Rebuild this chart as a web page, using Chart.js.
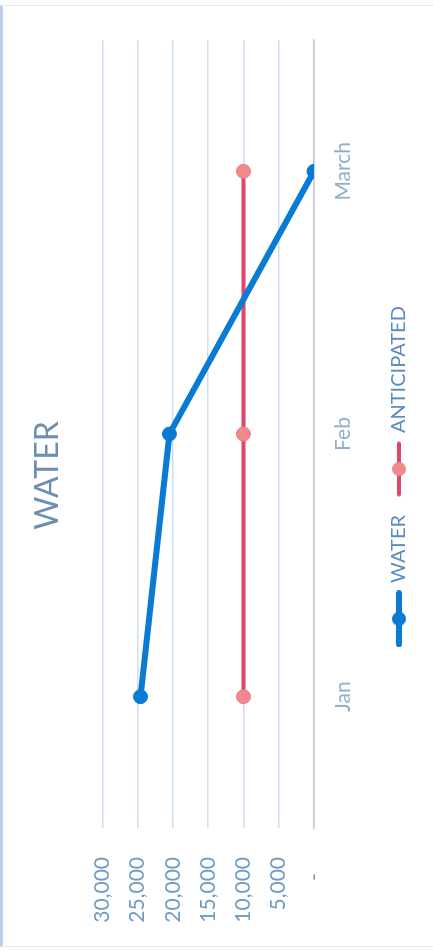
<!DOCTYPE html>
<html>
<head>
<meta charset="utf-8">
<script src="https://cdn.jsdelivr.net/npm/chart.js@4/dist/chart.umd.min.js"></script>
<style>
  html, body { margin: 0; padding: 0; background: #ffffff; }
  body { width: 433px; height: 951px; overflow: hidden; position: relative; }
  #frame { position: absolute; left: 0; top: 5px; width: 430px; height: 940px;
           border-left: 3px solid #bcd2ea; border-top: 1px solid #e3ecf6; border-bottom: 1px solid #e3ecf6; }
  #wrap { position: absolute; left: 0; top: 0; width: 951px; height: 433px;
          transform-origin: 0 0; transform: translate(0px, 951px) rotate(-90deg); }
</style>
</head>
<body>
<div id="frame"></div>
<div id="wrap"><canvas id="c" width="951" height="433"></canvas></div>
<script>
const chartTitle = 'WATER';
const categories = ['Jan', 'Feb', 'March'];
const waterValues = [24600, 20500, 0];
const anticipatedValues = [10000, 10000, 10000];
const valueTicks = [0, 5000, 10000, 15000, 20000, 25000, 30000];

const BLUE = '#0a7bd2';
const RED = '#e1466a';
const RED_FILL = '#f0898c';

function legendIcon(color, fill, lw) {
  const cv = document.createElement('canvas');
  cv.width = 57; cv.height = 18;
  const g = cv.getContext('2d');
  g.strokeStyle = color; g.lineWidth = lw; g.lineCap = 'round';
  g.beginPath(); g.moveTo(3, 9); g.lineTo(54, 9); g.stroke();
  g.fillStyle = fill; g.beginPath(); g.arc(28.5, 9, 7, 0, Math.PI * 2); g.fill();
  return cv;
}
const icons = [legendIcon(BLUE, BLUE, 6), legendIcon(RED, RED_FILL, 4)];

const FONT = 'Lato, "Open Sans", "DejaVu Sans", sans-serif';

new Chart(document.getElementById('c'), {
  type: 'line',
  data: {
    labels: categories,
    datasets: [
      { label: 'WATER', data: waterValues, borderColor: BLUE, backgroundColor: BLUE,
        borderWidth: 6, pointRadius: 7, pointBackgroundColor: BLUE, pointBorderColor: BLUE,
        pointBorderWidth: 1, tension: 0 },
      { label: 'ANTICIPATED', data: anticipatedValues, borderColor: RED, backgroundColor: RED_FILL,
        borderWidth: 4, pointRadius: 7, pointBackgroundColor: RED_FILL, pointBorderColor: '#ea7a86',
        pointBorderWidth: 1, tension: 0 }
    ]
  },
  options: {
    responsive: false,
    animation: false,
    layout: { padding: { left: 0, right: 0, top: 0, bottom: 14 } },
    plugins: {
      title: { display: true, text: chartTitle, color: '#6f8fae',
               font: { family: FONT, size: 32, weight: 'normal' },
               padding: { top: 28, bottom: 36 } },
      legend: { position: 'bottom',
        labels: { usePointStyle: true, pointStyleWidth: 52, padding: 20,
                  color: '#5b8cc0', font: { family: FONT, size: 20 },
                  generateLabels: (chart) => chart.data.datasets.map((ds, i) => ({
                    text: ds.label, pointStyle: icons[i], datasetIndex: i,
                    fontColor: '#5b8cc0', lineWidth: 0, strokeStyle: 'transparent', fillStyle: 'transparent'
                  })) } },
      tooltip: { enabled: false }
    },
    scales: {
      x: { offset: true,
           grid: { display: false, drawTicks: false },
           border: { display: true, color: '#c9cad8', width: 1.5 },
           ticks: { color: '#8fb0cc', padding: 17, font: { family: FONT, size: 21 } },
           afterFit: (s) => { s.height = 55; } },
      y: { min: 0, max: 30000,
           afterBuildTicks: (s) => { s.ticks = valueTicks.map(v => ({ value: v })); },
           grid: { drawTicks: false, lineWidth: 1.5,
                   color: (ctx) => ctx.tick && ctx.tick.value === 0 ? '#c9cad8' : '#cbdff4' },
           border: { display: false },
           ticks: { color: '#6f9cc4', padding: 29, font: { family: FONT, size: 21 },
                    callback: (v) => v === 0 ? '-   ' : v.toLocaleString('en-US') },
           afterFit: (s) => { s.width = 123; } },
      yRight: { position: 'right', display: true,
                grid: { display: false, drawTicks: false }, border: { display: false },
                ticks: { display: false },
                afterFit: (s) => { s.width = 40; } }
    }
  }
});
</script>
</body>
</html>
